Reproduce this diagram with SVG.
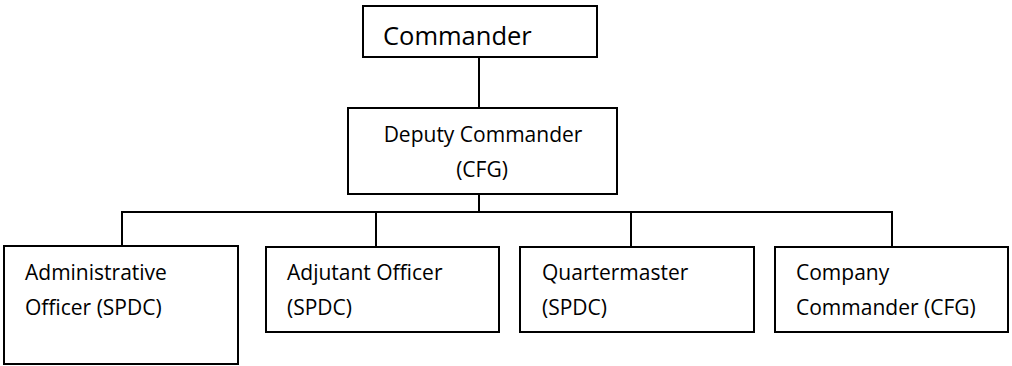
<svg xmlns="http://www.w3.org/2000/svg" width="1012" height="366" viewBox="0 0 1012 366">
<style>
.box{fill:#fff;stroke:#000;stroke-width:2}
.ln{fill:none;stroke:#000;stroke-width:2}
text{font-family:"Open Sans","Noto Sans",sans-serif;fill:#000}
.t{font-size:21px}
.big{font-size:25.5px}
</style>
<rect width="1012" height="366" fill="#fff"/>
<g id="connectors">
<path class="ln" d="M479 57V108"/>
<path class="ln" d="M479 194V212"/>
<path class="ln" d="M121 212H893"/>
<path class="ln" d="M122 212V246"/>
<path class="ln" d="M376 212V247"/>
<path class="ln" d="M631 212V247"/>
<path class="ln" d="M892 212V247"/>
</g>
<g id="commander">
<rect class="box" x="363" y="6" width="234" height="51"/>
<text class="big" x="383" y="45">Commander</text>
</g>
<g id="deputy">
<rect class="box" x="348" y="108" width="269" height="86"/>
<text class="t" x="483" y="142" text-anchor="middle">Deputy Commander</text>
<text class="t" x="482" y="177" text-anchor="middle">(CFG)</text>
</g>
<g id="admin">
<rect class="box" x="4" y="246" width="234" height="118"/>
<text class="t" x="25" y="280">Administrative</text>
<text class="t" x="25" y="315">Officer (SPDC)</text>
</g>
<g id="adjutant">
<rect class="box" x="266" y="247" width="233" height="85"/>
<text class="t" x="287" y="280">Adjutant Officer</text>
<text class="t" x="287" y="315">(SPDC)</text>
</g>
<g id="quartermaster">
<rect class="box" x="520" y="247" width="234" height="85"/>
<text class="t" x="542" y="280">Quartermaster</text>
<text class="t" x="542" y="315">(SPDC)</text>
</g>
<g id="company">
<rect class="box" x="775" y="247" width="233" height="85"/>
<text class="t" x="796" y="280">Company</text>
<text class="t" x="796" y="315">Commander (CFG)</text>
</g>
</svg>
